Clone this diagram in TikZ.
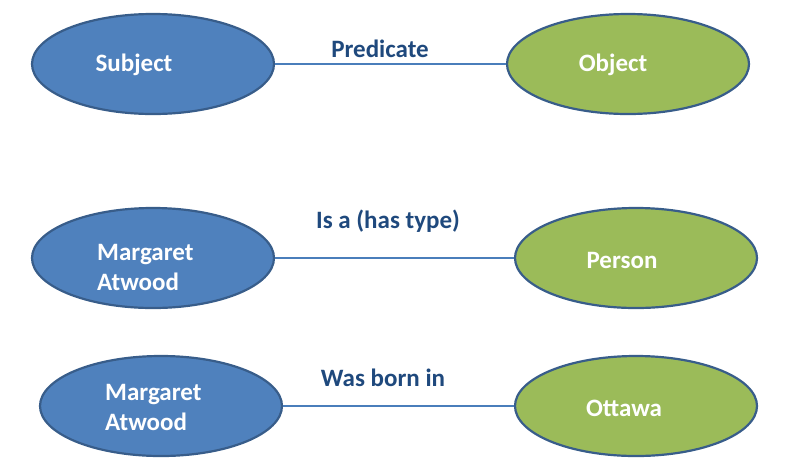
\documentclass[tikz,border=0pt]{standalone}
\usepackage{fontspec}
\setmainfont{Carlito}
\usetikzlibrary{shapes.geometric}
\definecolor{subjfill}{HTML}{4F81BD}
\definecolor{objfill}{HTML}{9BBB59}
\definecolor{edgeline}{HTML}{385D8A}
\definecolor{linkline}{HTML}{4A7EBB}
\definecolor{labtext}{HTML}{1F497D}
\tikzset{
  ell/.style={ellipse, draw=edgeline, line width=2.2pt, minimum width=242pt, minimum height=100pt, inner sep=0pt},
  subj/.style={ell, fill=subjfill},
  obj/.style={ell, fill=objfill},
  ntext/.style={font=\fontsize{25}{30}\selectfont\bfseries, text=white, align=left, inner sep=0pt},
  ltext/.style={font=\fontsize{25}{30}\selectfont\bfseries, text=labtext, inner sep=0pt},
  link/.style={draw=linkline, line width=2pt}
}
\begin{document}
\begin{tikzpicture}[x=1pt,y=-1pt]
\useasboundingbox (0,0) rectangle (791,472);
% row 1
\node[subj] (s1) at (153,64) {};
\node[obj] (o1) at (628,64) {};
\draw[link] (s1) -- (o1);
\node[ntext] (s1t) at (134,65) {Subject};
\node[ntext] (o1t) at (613,65) {Object};
\node[ltext] (p1) at (380,49) {Predicate};
% row 2
\node[subj] (s2) at (153,258) {};
\node[obj] (o2) at (636,258) {};
\draw[link] (s2) -- (o2);
\node[ntext, anchor=west] (s2t) at (97,267) {Margaret\\Atwood};
\node[ntext] (o2t) at (622,260) {Person};
\node[ltext] (p2) at (388,221) {Is a (has type)};
% row 3
\node[subj] (s3) at (161,406) {};
\node[obj] (o3) at (636,406) {};
\draw[link] (s3) -- (o3);
\node[ntext, anchor=west] (s3t) at (105,407) {Margaret\\Atwood};
\node[ntext] (o3t) at (624,408) {Ottawa};
\node[ltext] (p3) at (383,378) {Was born in};
\end{tikzpicture}
\end{document}
